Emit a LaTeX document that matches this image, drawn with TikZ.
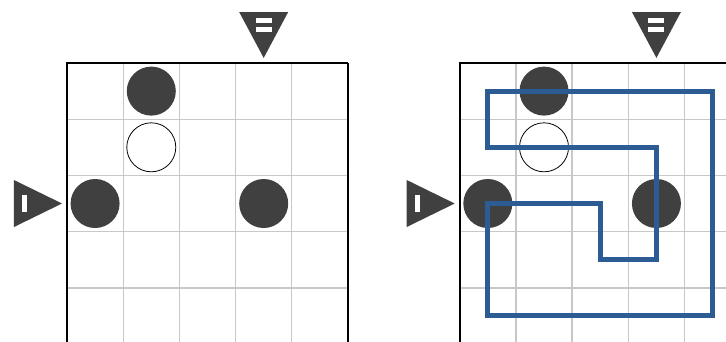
\documentclass[tikz,border=0pt]{standalone}
\definecolor{stone}{HTML}{404040}
\definecolor{loopblue}{HTML}{2D5B93}
\definecolor{gridgray}{HTML}{C8C8C8}
\tikzset{
    gridline/.style={gridgray, line width=0.7pt},
    frame/.style={black, line width=1pt},
    blackstone/.style={fill=stone},
    whitestone/.style={draw=black, fill=white, line width=0.4pt},
    clue/.style={fill=stone},
    tally/.style={fill=white},
    loop/.style={loopblue, line width=2.5pt, line join=miter},
}
\newcommand{\puzzle}[1]{%
    % grid
    \foreach \i in {1,...,4} {
        \draw[gridline] (\i, 0) -- (\i, 5);
        \draw[gridline] (0, \i) -- (#1, \i);
    }
    \draw[frame] (0, 5) -- (0, 0) -- (#1, 0);
    % stones
    \fill[blackstone] (1.5, 0.5) circle (0.436);
    \draw[whitestone] (1.5, 1.5) circle (0.436);
    \fill[blackstone] (0.5, 2.5) circle (0.436);
    \fill[blackstone] (3.5, 2.5) circle (0.436);
    % clues
    \fill[clue] (3.064, -0.907) -- (3.936, -0.907) -- (3.5, -0.09) -- cycle;
    \fill[tally] (3.357, -0.792) rectangle (3.643, -0.720);
    \fill[tally] (3.357, -0.632) rectangle (3.643, -0.560);
    \fill[clue] (-0.943, 2.082) -- (-0.943, 2.918) -- (-0.089, 2.5) -- cycle;
    \fill[tally] (-0.800, 2.350) rectangle (-0.712, 2.650);
}
\begin{document}
\begin{tikzpicture}
    \useasboundingbox (0, 0) rectangle (12.918, -6.085);

    % puzzle
    \begin{scope}[shift={(1.192, -1.121)}, y=-1cm]
        \puzzle{5}
        \draw[frame] (5, 0) -- (5, 5);
    \end{scope}

    % solution
    \begin{scope}[shift={(8.180, -1.121)}, y=-1cm]
        \puzzle{4.73}
        \draw[loop] (0.5, 0.5) -- (4.5, 0.5) -- (4.5, 4.5) -- (0.5, 4.5)
            -- (0.5, 2.5) -- (2.5, 2.5) -- (2.5, 3.5) -- (3.5, 3.5)
            -- (3.5, 1.5) -- (0.5, 1.5) -- cycle;
    \end{scope}
\end{tikzpicture}
\end{document}
